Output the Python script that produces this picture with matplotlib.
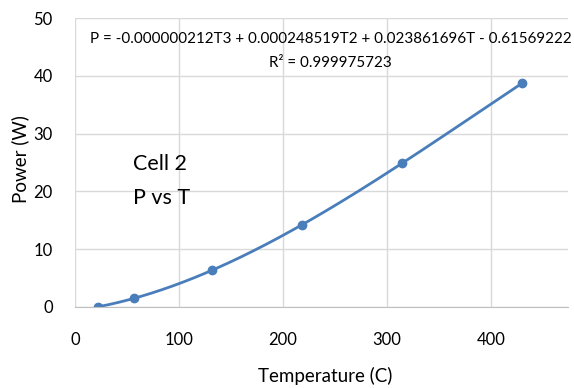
import numpy as np
import matplotlib.pyplot as plt

# measured points (Cell 2)
temp = [22, 57, 132, 218, 314, 430]
power = [0.0, 1.6, 6.4, 14.1, 24.9, 38.7]

# cubic trendline coefficients shown on the chart
coef = [-0.000000212, 0.000248519, 0.023861696, -0.61569222]
eq_text = 'P = -0.000000212T3 + 0.000248519T2 + 0.023861696T - 0.61569222'
r2_text = 'R² = 0.999975723'

plt.rcParams['font.family'] = ['Lato', 'DejaVu Sans']
blue = '#4a7ebb'

fig = plt.figure(figsize=(5.74, 3.88), dpi=100)
ax = fig.add_axes([0.1307, 0.2088, 0.8589, 0.7448])

tt = np.linspace(min(temp), max(temp), 200)
ax.plot(tt, np.polyval(coef, tt), color=blue, lw=2)
ax.plot(temp, power, 'o', color=blue, ms=6)

ax.set_xlim(0, 474)
ax.set_ylim(0, 50)
ax.set_xticks([0, 100, 200, 300, 400])
ax.set_yticks([0, 10, 20, 30, 40, 50])
ax.grid(True, color='#d9d9d9', lw=1)
ax.set_axisbelow(True)
for s in ['top', 'right', 'left']:
    ax.spines[s].set_visible(False)
ax.spines['bottom'].set_color('#bfbfbf')
ax.tick_params(length=0, labelsize=12)
ax.tick_params(axis='x', pad=18)
ax.tick_params(axis='y', pad=16)

fig.text(0.566, 0.031, 'Temperature (C)', ha='center', va='center', fontsize=13.5)
fig.text(0.035, 0.59, 'Power (W)', ha='center', va='center', rotation=90, fontsize=13.5)

fig.text(0.576, 0.899, eq_text, ha='center', va='center', fontsize=10.9)
fig.text(0.576, 0.838, r2_text, ha='center', va='center', fontsize=10.9)
fig.text(0.232, 0.578, 'Cell 2', ha='left', va='center', fontsize=15.5)
fig.text(0.232, 0.49, 'P vs T', ha='left', va='center', fontsize=15.5)

fig.savefig('out.png', dpi=100)
